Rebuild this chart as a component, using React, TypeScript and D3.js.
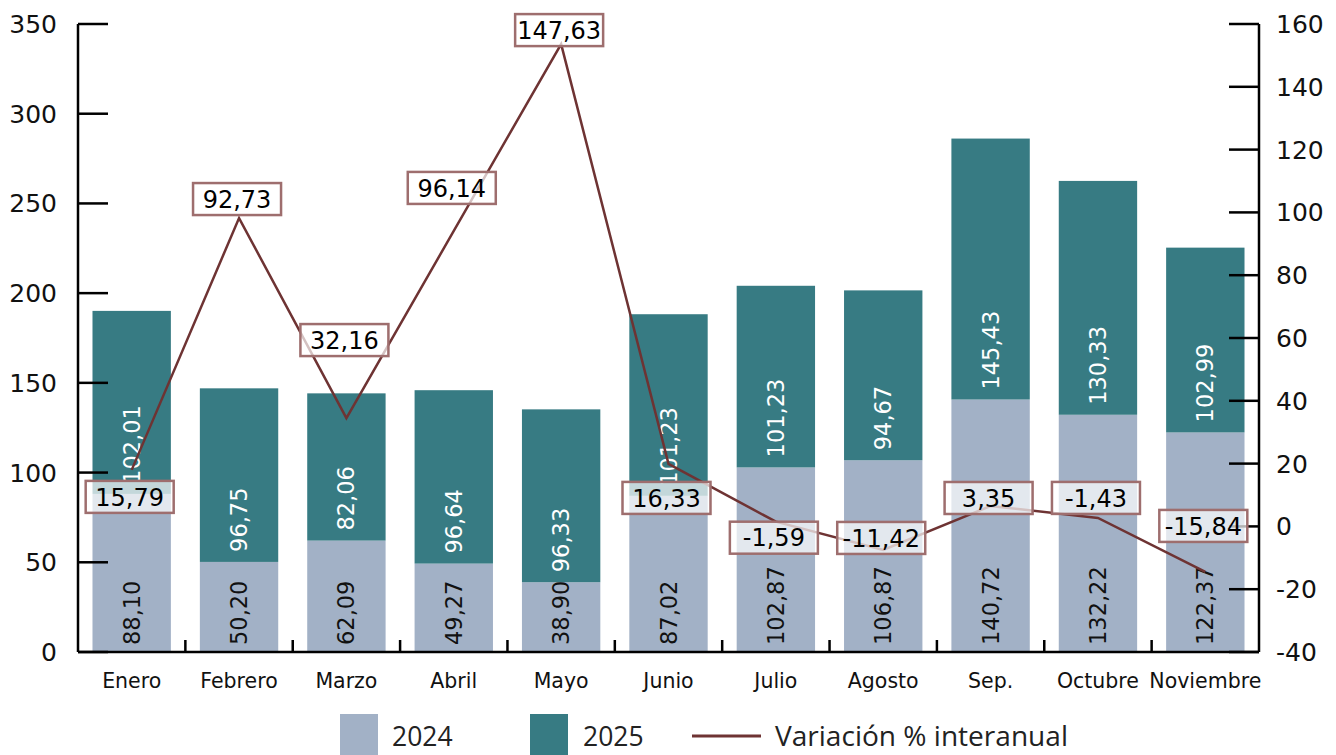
import React from "react";
import * as d3 from "d3";

const months = ["Enero", "Febrero", "Marzo", "Abril", "Mayo", "Junio", "Julio", "Agosto", "Sep.", "Octubre", "Noviembre"];
const values2024 = [88.10, 50.20, 62.09, 49.27, 38.90, 87.02, 102.87, 106.87, 140.72, 132.22, 122.37];
const values2025 = [102.01, 96.75, 82.06, 96.64, 96.33, 101.23, 101.23, 94.67, 145.43, 130.33, 102.99];
// line vertices (right axis)
const variacion = [18.0, 98.2, 34.5, 94.1, 153.6, 19.9, 1.5, -7.5, 6.5, 2.7, -14.5];
// values printed in the label boxes
const variacionLabels = [15.79, 92.73, 32.16, 96.14, 147.63, 16.33, -1.59, -11.42, 3.35, -1.43, -15.84];
const leftTicks = [0, 50, 100, 150, 200, 250, 300, 350];
const rightTicks = [-40, -20, 0, 20, 40, 60, 80, 100, 120, 140, 160];
const legendLabels = ["2024", "2025", "Variación % interanual"];

// label box layout offsets (pixels, relative to the line vertex)
const labelDy = [27, -19, -78, -43, -14, 34, 16, -12, -8, -20, -46];

const W = 1336;
const H = 755;
const C2024 = "#A2B1C6";
const C2025 = "#377B83";
const CLINE = "#6E3333";
const CBOX = "#9E6E6E";
const FONT = "'DejaVu Sans', sans-serif";

const fmt = (v: number) => v.toFixed(2).replace(".", ",");

export default function App() {
  const x = d3.scaleBand<string>().domain(months).range([78, 1259]).paddingInner(0.27).paddingOuter(0.135);
  const yL = d3.scaleLinear().domain([0, 350]).range([652, 24]);
  const yR = d3.scaleLinear().domain([-40, 160]).range([652, 24]);
  const cx = (i: number) => (x(months[i]) as number) + x.bandwidth() / 2;
  const step = x.step();

  const line = d3
    .line<number>()
    .x((_, i) => cx(i))
    .y((d) => yR(d));

  return (
    <svg width={W} height={H} style={{ position: "absolute", left: 0, top: 0, background: "#fff" }}>
      {/* bars */}
      {months.map((m, i) => {
        const x0 = x(m) as number;
        const bw = x.bandwidth();
        const b0 = yL(0);
        const b1 = yL(values2024[i]);
        const b2 = yL(values2024[i] + values2025[i]);
        return (
          <g key={m}>
            <rect x={x0} y={b1} width={bw} height={b0 - b1} fill={C2024} />
            <rect x={x0} y={b2} width={bw} height={b1 - b2} fill={C2025} />
            <text
              transform={`translate(${cx(i)},${b0 - 7}) rotate(-90)`}
              dominantBaseline="central"
              textAnchor="start"
              fontFamily={FONT}
              fontSize={22.5}
              fill="#111"
            >
              {fmt(values2024[i])}
            </text>
            <text
              transform={`translate(${cx(i)},${b1 - 10}) rotate(-90)`}
              dominantBaseline="central"
              textAnchor="start"
              fontFamily={FONT}
              fontSize={22.5}
              fill="#fff"
            >
              {fmt(values2025[i])}
            </text>
          </g>
        );
      })}

      {/* axes */}
      <g stroke="#000" strokeWidth={2.5} fill="none">
        <line x1={78} y1={yL(350)} x2={78} y2={yL(0)} />
        <line x1={1259} y1={yR(160)} x2={1259} y2={yR(-40)} />
        <line x1={78} y1={yL(0)} x2={1259} y2={yL(0)} />
        {leftTicks.map((t) => (
          <line key={"lt" + t} x1={78} x2={108} y1={yL(t)} y2={yL(t)} />
        ))}
        {rightTicks.map((t) => (
          <line key={"rt" + t} x1={1229} x2={1259} y1={yR(t)} y2={yR(t)} />
        ))}
        {months.slice(1).map((m, i) => (
          <line key={"ct" + m} x1={78 + step * (i + 1)} x2={78 + step * (i + 1)} y1={yL(0)} y2={yL(0) - 12} />
        ))}
      </g>
      {leftTicks.map((t) => (
        <text key={"ll" + t} x={57} y={yL(t)} dy="0.36em" textAnchor="end" fontFamily={FONT} fontSize={25} fill="#111">
          {t}
        </text>
      ))}
      {rightTicks.map((t) => (
        <text key={"rl" + t} x={1276} y={yR(t)} dy="0.36em" textAnchor="start" fontFamily={FONT} fontSize={25} fill="#111">
          {t}
        </text>
      ))}
      {months.map((m, i) => (
        <text key={"xl" + m} x={cx(i)} y={688} textAnchor="middle" fontFamily={FONT} fontSize={20.5} fill="#111">
          {m}
        </text>
      ))}

      {/* line */}
      <path d={line(variacion) as string} fill="none" stroke={CLINE} strokeWidth={2.5} strokeLinejoin="miter" />

      {/* label boxes */}
      {variacionLabels.map((v, i) => {
        const bx = cx(i) - 2;
        const by = yR(variacion[i]) + labelDy[i];
        return (
          <g key={"lb" + i}>
            <rect x={bx - 44} y={by - 16} width={88} height={32} fill="#fff" fillOpacity={0.7} stroke={CBOX} strokeWidth={2.5} />
            <text x={bx} y={by} dy="0.36em" textAnchor="middle" fontFamily={FONT} fontSize={24} fill="#000">
              {fmt(v)}
            </text>
          </g>
        );
      })}

      {/* legend */}
      <g fontFamily="'Open Sans', sans-serif" fontSize={26.5} fill="#222">
        <rect x={340} y={714} width={38} height={41} fill={C2024} />
        <text x={392} y={736} dy="0.36em">{legendLabels[0]}</text>
        <rect x={530} y={714} width={38} height={41} fill={C2025} />
        <text x={583} y={736} dy="0.36em">{legendLabels[1]}</text>
        <line x1={692} x2={761} y1={736} y2={736} stroke={CLINE} strokeWidth={3} />
        <text x={775} y={736} dy="0.36em" textLength={293} lengthAdjust="spacingAndGlyphs">{legendLabels[2]}</text>
      </g>
    </svg>
  );
}
